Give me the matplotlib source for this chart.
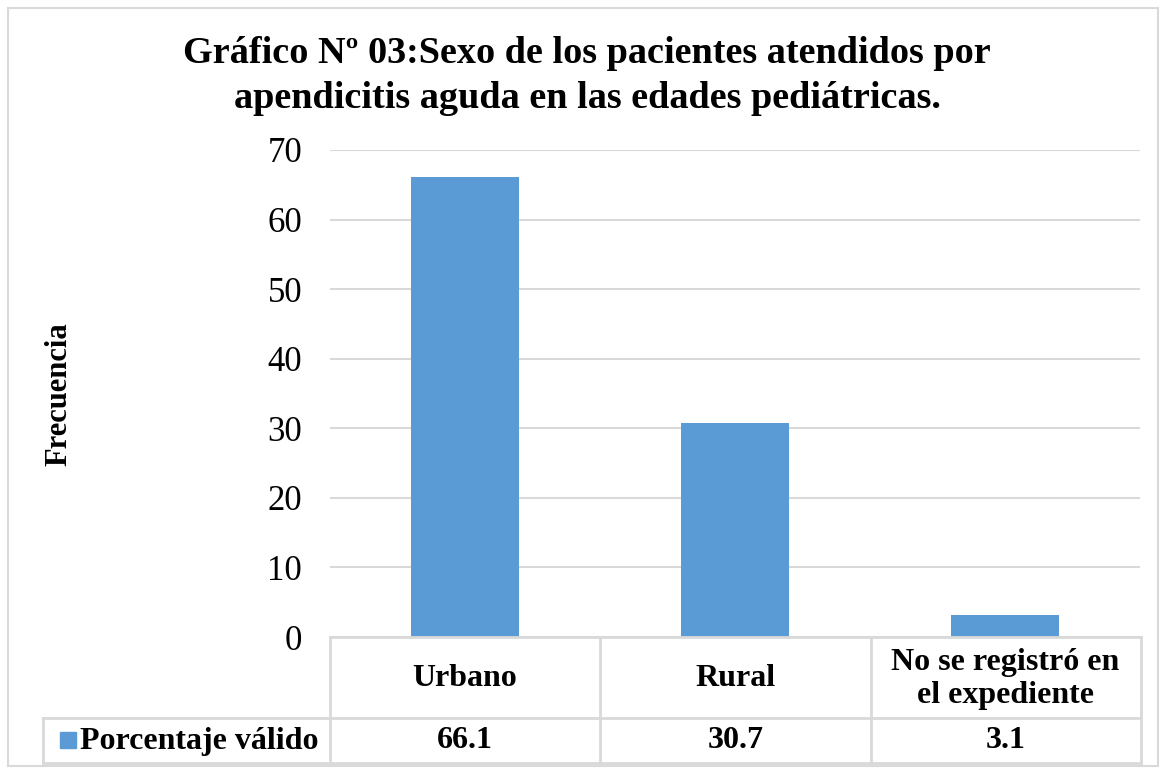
import matplotlib.pyplot as plt
from matplotlib.lines import Line2D
from matplotlib.patches import Rectangle

categorias = ["Urbano", "Rural", "No se registró en\nel expediente"]
porcentaje = [66.1, 30.7, 3.1]
serie = "Porcentaje válido"
titulo = ["Gráfico Nº 03:Sexo de los pacientes atendidos por",
          "apendicitis aguda en las edades pediátricas."]

plt.rcParams['font.family'] = ['Liberation Serif', 'DejaVu Serif']

W, H = 1165, 774
fig = plt.figure(figsize=(W / 100, H / 100), dpi=100)

def fx(px):
    return px / W

def fy(py):
    return 1 - py / H

azul = "#5b9bd5"
gris = "#d9d9d9"

ax = fig.add_axes([fx(330), fy(637), fx(1140) - fx(330), fy(150) - fy(637)])
x = range(len(categorias))
ax.bar(x, porcentaje, width=0.4, color=azul, zorder=3)
ax.set_xlim(-0.5, len(categorias) - 0.5)
ax.set_ylim(0, 70)
ax.set_yticks(range(0, 71, 10))
ax.tick_params(axis='y', length=0, labelsize=25, pad=20)
ax.set_xticks([])
ax.grid(axis='y', color=gris, lw=1.5, zorder=0)
for s in ax.spines.values():
    s.set_visible(False)

fig.text(fx(59), fy(394), "Frecuencia", rotation=90, ha='center', va='center',
         fontsize=22, fontweight='bold')
for linea_t, base in zip(titulo, [63, 108]):
    fig.text(fx(587), fy(base), linea_t, ha='center', va='baseline', fontsize=27.5,
             fontweight='bold')

# tabla de datos
def linea(x0, y0, x1, y1):
    fig.add_artist(Line2D([fx(x0), fx(x1)], [fy(y0), fy(y1)], color=gris, lw=2))

linea(330, 637, 1141, 637)
linea(43, 718, 1141, 718)
linea(43, 763, 1141, 763)
linea(43, 718, 43, 763)
for k in range(len(categorias) + 1):
    linea(330 + 270.3 * k, 637, 330 + 270.3 * k, 763)

for i, (c, v) in enumerate(zip(categorias, porcentaje)):
    cx = fx(330 + 270.3 * i + 135)
    fig.text(cx, fy(679), c, ha='center', va='center', fontsize=23,
             fontweight='bold', linespacing=1.15)
    fig.text(cx, fy(741), f"{v:.1f}", ha='center', va='center', fontsize=23,
             fontweight='bold')

fig.add_artist(Rectangle((fx(60), fy(748)), fx(16), fy(732) - fy(748), color=azul))
fig.text(fx(80), fy(741), serie, ha='left', va='center', fontsize=23, fontweight='bold')

fig.add_artist(Rectangle((fx(8), fy(766)), fx(1150), fy(8) - fy(766), fill=False,
                         edgecolor=gris, lw=1.5))

fig.savefig("out.png", dpi=100)
